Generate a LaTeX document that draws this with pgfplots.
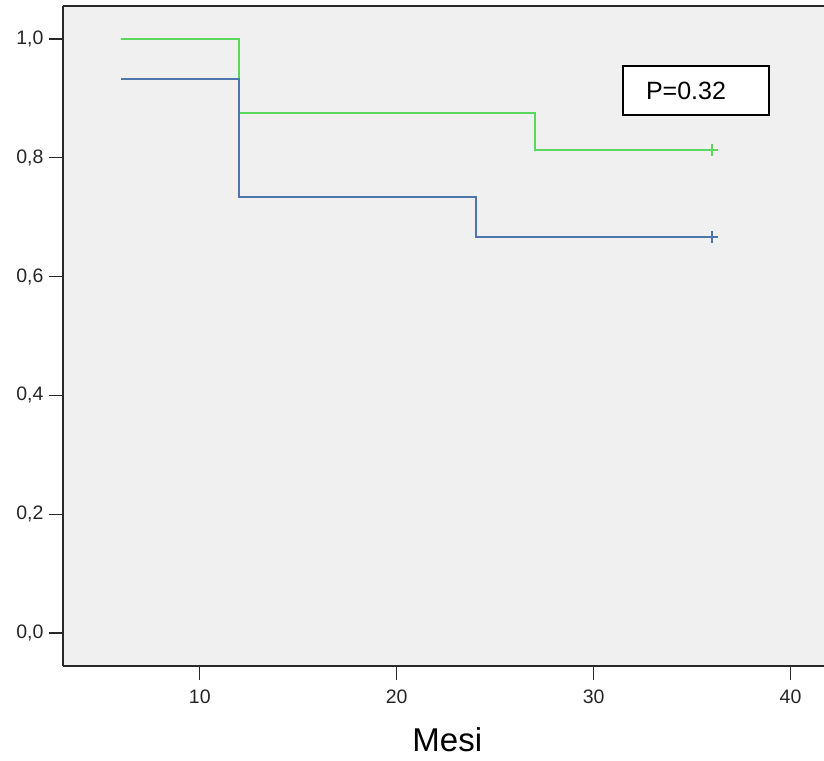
\documentclass[border=0pt]{standalone}
\usepackage{fontspec}
\setmainfont{Liberation Sans}
\usepackage{pgfplots}
\pgfplotsset{compat=1.18}
\definecolor{bgc}{RGB}{240,240,240}
\definecolor{kmgreen}{RGB}{92,214,92}
\definecolor{kmblue}{RGB}{78,118,168}
\definecolor{axc}{RGB}{40,40,40}
\begin{document}
\begin{tikzpicture}
\begin{axis}[
  name=ax,
  scale only axis,
  width=761pt, height=660pt,
  xmin=3.05, xmax=41.7,
  ymin=-0.0556, ymax=1.0556,
  axis x line*=bottom, axis y line*=left,
  axis line style={draw=axc, line width=1.6pt, -},
  axis background/.style={fill=bgc},
  xtick={10,20,30,40},
  ytick={0,0.2,0.4,0.6,0.8,1.0},
  tick align=outside,
  major tick length=14pt,
  tick style={draw=axc, line width=1.2pt},
  /pgf/number format/assume math mode=true,
  ticklabel style={font=\fontsize{19.5}{22}\selectfont, text=black!85},
  xticklabel style={yshift=-6pt},
  yticklabel style={xshift=-2pt, /pgf/number format/.cd, use comma, fixed, fixed zerofill, precision=1},
  clip=false,
  xlabel={Mesi},
  xlabel style={font=\fontsize{33}{38}\selectfont, at={(axis description cs:0.505,0)}, anchor=center, yshift=-74pt},
]
\draw[draw=axc, line width=1.2pt] (rel axis cs:0,1) -- (rel axis cs:1,1);
\addplot[const plot, color=kmgreen, line width=2pt] coordinates {(6,1.0) (12,1.0) (12,0.875) (27,0.875) (27,0.8125) (36.3,0.8125)};
\addplot[const plot, color=kmblue, line width=2pt] coordinates {(6,0.9333) (12,0.9333) (12,0.7333) (24,0.7333) (24,0.6667) (36.3,0.6667)};
\addplot[only marks, mark=+, mark size=6pt, color=kmgreen, line width=1.5pt] coordinates {(36,0.8125)};
\addplot[only marks, mark=+, mark size=6pt, color=kmblue, line width=1.5pt] coordinates {(36,0.6667)};
\node[draw=black, line width=1.5pt, fill=white, minimum width=146pt, minimum height=49pt, inner sep=0pt, font=\fontsize{25}{30}\selectfont] at (axis cs:35.2,0.913) {P=0.32\kern20pt};
\end{axis}
\pgfresetboundingbox
\path ([shift={(-63pt,-94pt)}]ax.south west) rectangle ([shift={(0pt,6pt)}]ax.north east);
\end{tikzpicture}
\end{document}
